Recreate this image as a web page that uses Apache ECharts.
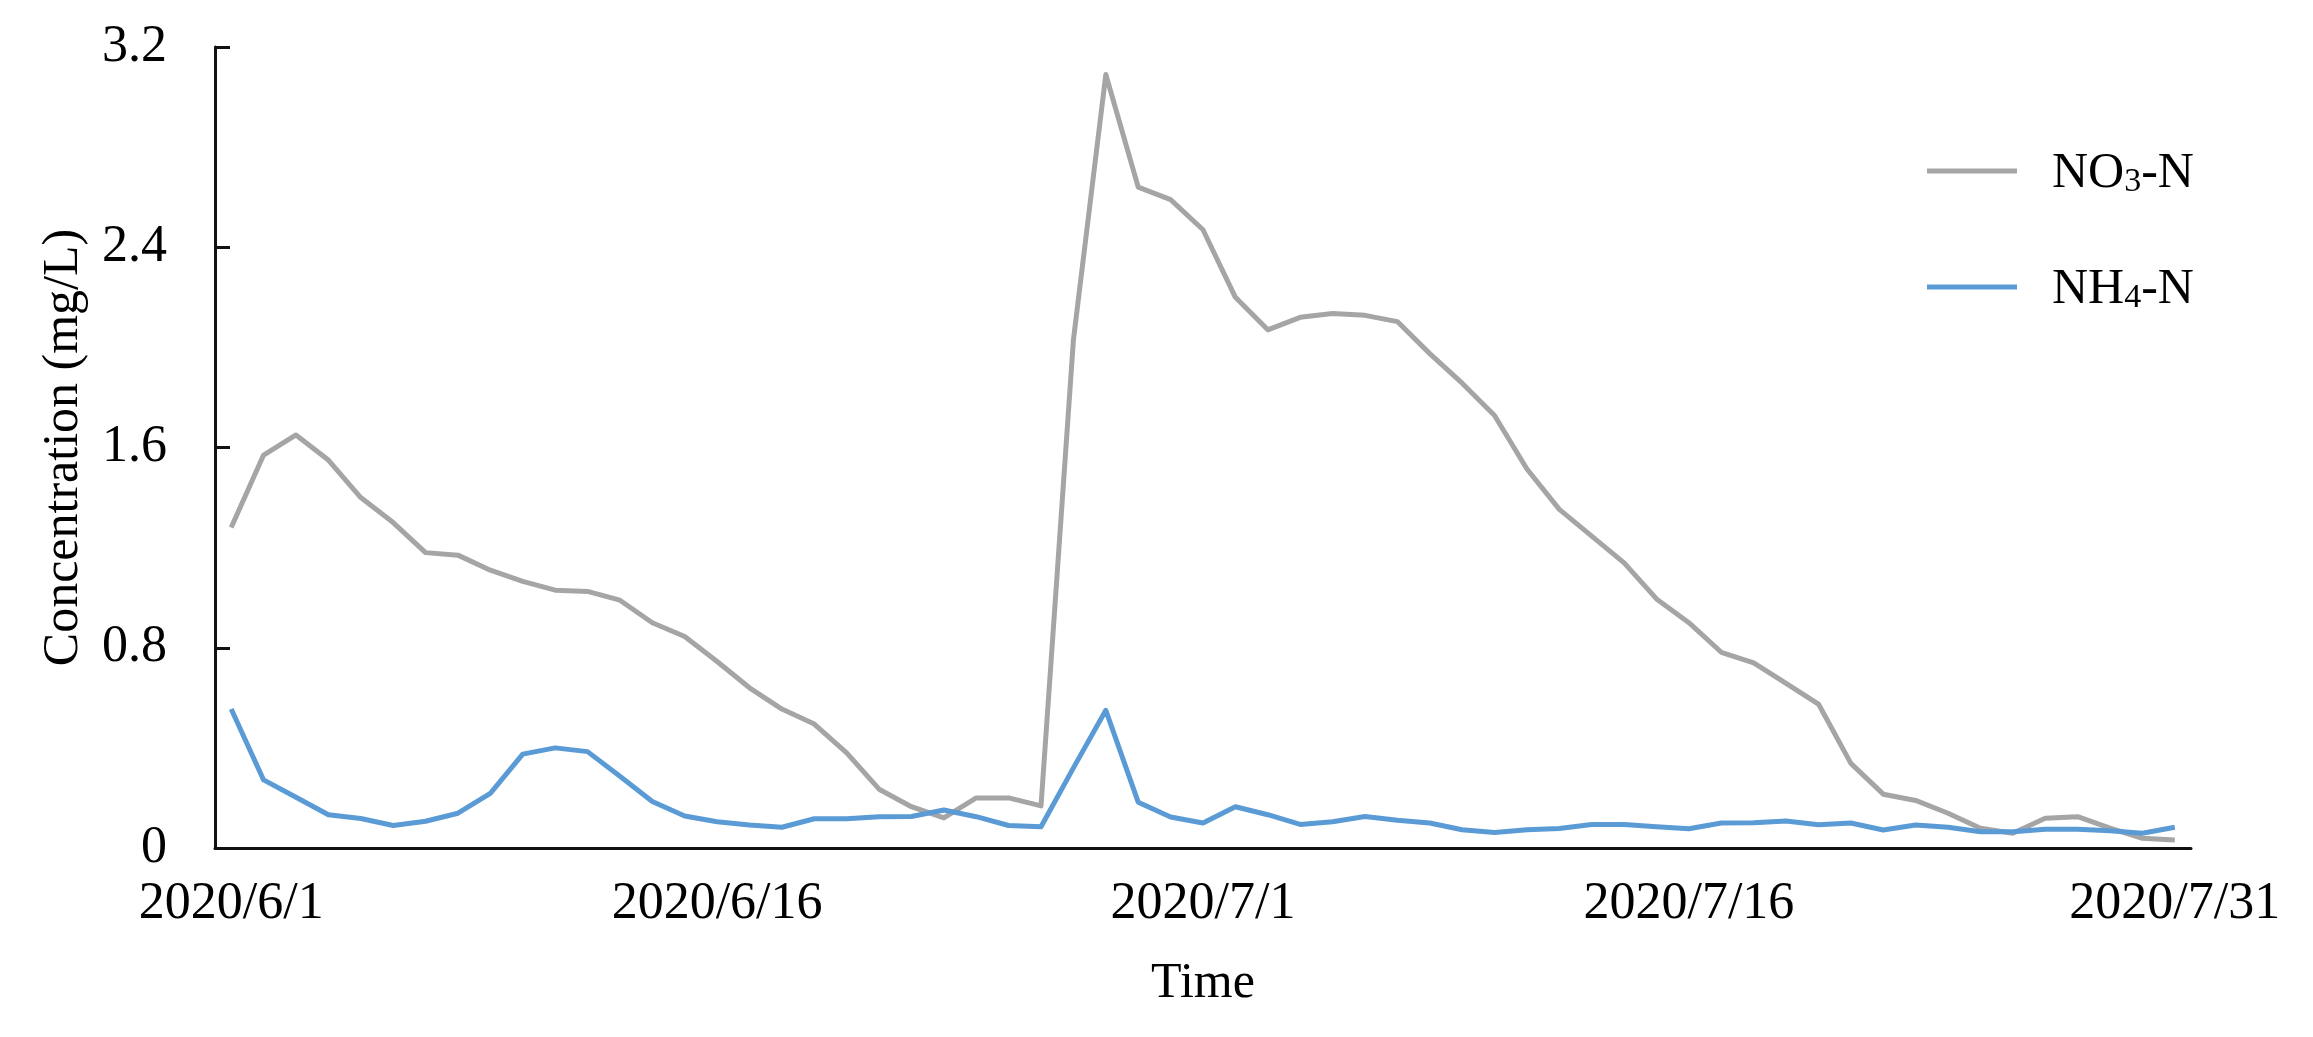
<!DOCTYPE html>
<html><head><meta charset="utf-8">
<script src="https://cdn.jsdelivr.net/npm/echarts@6/dist/echarts.min.js"></script>
<style>html,body{margin:0;padding:0;background:#fff}#c{width:2313px;height:1037px}</style>
</head><body><div id="c"></div>
<script>
const dates = [
  '2020/6/1','2020/6/2','2020/6/3','2020/6/4','2020/6/5','2020/6/6','2020/6/7','2020/6/8','2020/6/9','2020/6/10',
  '2020/6/11','2020/6/12','2020/6/13','2020/6/14','2020/6/15','2020/6/16','2020/6/17','2020/6/18','2020/6/19','2020/6/20',
  '2020/6/21','2020/6/22','2020/6/23','2020/6/24','2020/6/25','2020/6/26','2020/6/27','2020/6/28','2020/6/29','2020/6/30',
  '2020/7/1','2020/7/2','2020/7/3','2020/7/4','2020/7/5','2020/7/6','2020/7/7','2020/7/8','2020/7/9','2020/7/10',
  '2020/7/11','2020/7/12','2020/7/13','2020/7/14','2020/7/15','2020/7/16','2020/7/17','2020/7/18','2020/7/19','2020/7/20',
  '2020/7/21','2020/7/22','2020/7/23','2020/7/24','2020/7/25','2020/7/26','2020/7/27','2020/7/28','2020/7/29','2020/7/30',
  '2020/7/31'
];
const no3 = [
  1.28, 1.57, 1.65, 1.55, 1.40, 1.30, 1.18, 1.17, 1.11, 1.065,
  1.03, 1.025, 0.99, 0.90, 0.845, 0.745, 0.64, 0.555, 0.495, 0.38,
  0.235, 0.165, 0.12, 0.20, 0.20, 0.168, 2.03, 3.09, 2.64, 2.59,
  2.47, 2.20, 2.07, 2.12, 2.135, 2.128, 2.103, 1.975, 1.857, 1.728,
  1.514, 1.353, 1.246, 1.139, 0.995, 0.90, 0.782, 0.74, 0.658, 0.575,
  0.338, 0.215, 0.19, 0.139, 0.079, 0.059, 0.119, 0.125, 0.079, 0.039,
  0.032
];
const nh4 = [
  0.555, 0.272, 0.203, 0.133, 0.118, 0.09, 0.107, 0.139, 0.218, 0.375,
  0.40, 0.385, 0.287, 0.186, 0.128, 0.105, 0.092, 0.083, 0.117, 0.117,
  0.125, 0.126, 0.152, 0.125, 0.09, 0.085, 0.32, 0.55, 0.183, 0.124,
  0.10, 0.165, 0.133, 0.094, 0.105, 0.126, 0.111, 0.10, 0.073, 0.062,
  0.073, 0.078, 0.094, 0.094, 0.085, 0.077, 0.10, 0.101, 0.108, 0.093,
  0.10, 0.072, 0.092, 0.083, 0.065, 0.065, 0.075, 0.075, 0.069, 0.059,
  0.083
];
const seriesNames = ['NO3-N', 'NH4-N'];
const seriesColors = ['#A5A5A5', '#5B9BD5'];
const yMin = 0, yMax = 3.2, yStep = 0.8;

const FONT = '"Liberation Serif", "Times New Roman", serif';
const rich = {
  f: {fontFamily: FONT, fontSize: 50, color: '#000', lineHeight: 56, padding: [0, 0, 0, 30], verticalAlign: 'bottom'},
  n: {fontFamily: FONT, fontSize: 50, color: '#000', lineHeight: 56, verticalAlign: 'bottom'},
  s: {fontFamily: FONT, fontSize: 34, color: '#000', lineHeight: 26, verticalAlign: 'bottom'}
};
function legendFmt(name) {
  const m = name.match(/^([A-Z]+)(\d)(-N)$/);
  return '{f|' + m[1] + '}{s|' + m[2] + '}{n|' + m[3] + '}';
}

const chart = echarts.init(document.getElementById('c'), null, {renderer: 'canvas'});
chart.setOption({
  animation: false,
  backgroundColor: '#fff',
  grid: {left: 215, right: 122, top: 47, bottom: 189, containLabel: false},
  legend: [
    {data: [seriesNames[0]], left: 1922, top: 144, orient: 'vertical', icon: 'rect',
     itemWidth: 90, itemHeight: 5, formatter: legendFmt, textStyle: {rich: rich}},
    {data: [seriesNames[1]], left: 1922, top: 260, orient: 'vertical', icon: 'rect',
     itemWidth: 90, itemHeight: 5, formatter: legendFmt, textStyle: {rich: rich}}
  ],
  xAxis: {
    type: 'category',
    data: dates,
    boundaryGap: true,
    name: 'Time',
    nameLocation: 'middle',
    nameGap: 111,
    nameTextStyle: {fontFamily: FONT, fontSize: 50, color: '#000'},
    axisLine: {lineStyle: {color: '#111', width: 3}},
    axisTick: {show: false},
    axisLabel: {interval: 14, margin: 30, fontFamily: FONT, fontSize: 52, color: '#000'},
    splitLine: {show: false}
  },
  yAxis: {
    type: 'value',
    min: yMin, max: yMax, interval: yStep,
    name: 'Concentration (mg/L)',
    nameLocation: 'middle',
    nameGap: 126,
    nameRotate: 90,
    nameTextStyle: {fontFamily: FONT, fontSize: 50, color: '#000'},
    axisLine: {show: true, lineStyle: {color: '#111', width: 3}},
    axisTick: {show: true, inside: true, length: 15, lineStyle: {color: '#111', width: 3}},
    axisLabel: {margin: 48, fontFamily: FONT, fontSize: 52, color: '#000'},
    splitLine: {show: false}
  },
  series: [
    {name: seriesNames[0], type: 'line', data: no3, showSymbol: false, symbol: 'none',
     color: seriesColors[0], itemStyle: {color: seriesColors[0]},
     lineStyle: {color: seriesColors[0], width: 5, join: 'round'}},
    {name: seriesNames[1], type: 'line', data: nh4, showSymbol: false, symbol: 'none',
     color: seriesColors[1], itemStyle: {color: seriesColors[1]},
     lineStyle: {color: seriesColors[1], width: 5, join: 'round'}}
  ]
});
</script>
</body></html>
